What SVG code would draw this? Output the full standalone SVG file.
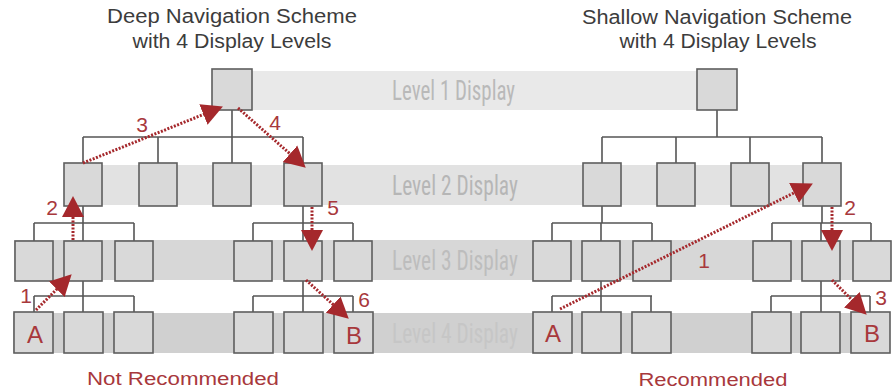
<svg xmlns="http://www.w3.org/2000/svg" width="895" height="392" viewBox="0 0 895 392">
  <style>
    .title { font-family: "Liberation Sans", Arial, sans-serif; font-size: 20px; fill: #3c3c3c; text-anchor: middle; }
    .verdict { font-family: "Liberation Sans", Arial, sans-serif; font-size: 18px; fill: #a8383c; text-anchor: middle; }
    .level { font-family: "Roboto Condensed", "DejaVu Sans Condensed", Roboto, sans-serif; font-size: 27px; }
    .box { fill: #d9d9d9; stroke: #5e5e5e; stroke-width: 1.6; }
    .tree { fill: none; stroke: #555; stroke-width: 1.6; }
    .step { fill: none; stroke: #a5282c; stroke-width: 3; stroke-dasharray: 2 1.5; }
    .num { font-family: "Liberation Sans", Arial, sans-serif; font-size: 21px; fill: #a8383c; text-anchor: middle; }
    .end { font-family: "Liberation Sans", Arial, sans-serif; font-size: 24px; fill: #a8383c; text-anchor: middle; }
  </style>
  <defs>
    <marker id="head" viewBox="0 -12 22 24" refX="10" refY="0" markerWidth="22" markerHeight="24" markerUnits="userSpaceOnUse" orient="auto">
      <path d="M0,-11 L21,0 L0,11 z" fill="#a5282c"/>
    </marker>
  </defs>

  <!-- display level bands -->
  <g id="bands">
    <rect x="212" y="71" width="525" height="39" fill="#e9e9e9"/>
    <rect x="64" y="165" width="777" height="40" fill="#e2e2e2"/>
    <rect x="14" y="240" width="877" height="40" fill="#d7d7d7"/>
    <rect x="13" y="313" width="877" height="40" fill="#d0d0d0"/>
    <!-- labels are squeezed horizontally to a condensed look -->
    <text class="level" transform="translate(392,100) scale(0.68,1)" textLength="181" lengthAdjust="spacingAndGlyphs" fill="#b9b9b9">Level 1 Display</text>
    <text class="level" transform="translate(392,195) scale(0.68,1)" textLength="185" lengthAdjust="spacingAndGlyphs" fill="#b6b6b6">Level 2 Display</text>
    <text class="level" transform="translate(392,270) scale(0.68,1)" textLength="185" lengthAdjust="spacingAndGlyphs" fill="#bdbdbd">Level 3 Display</text>
    <text class="level" transform="translate(392,343) scale(0.68,1)" textLength="185" lengthAdjust="spacingAndGlyphs" fill="#c6c6c6">Level 4 Display</text>
  </g>

  <!-- titles -->
  <g id="titles">
    <text class="title" x="232" y="23" textLength="250" lengthAdjust="spacingAndGlyphs">Deep Navigation Scheme</text>
    <text class="title" x="232" y="48" textLength="199" lengthAdjust="spacingAndGlyphs">with 4 Display Levels</text>
    <text class="title" x="717" y="24" textLength="270" lengthAdjust="spacingAndGlyphs">Shallow Navigation Scheme</text>
    <text class="title" x="718" y="48" textLength="197" lengthAdjust="spacingAndGlyphs">with 4 Display Levels</text>
    <text class="verdict" x="183" y="385" textLength="192" lengthAdjust="spacingAndGlyphs">Not Recommended</text>
    <text class="verdict" x="713" y="386" textLength="149" lengthAdjust="spacingAndGlyphs">Recommended</text>
  </g>

  <!-- tree connectors -->
  <g id="connectors" class="tree">
    <!-- deep scheme -->
    <path d="M232,110 V137 M83,137 H303 M83,137 V163 M158,137 V163 M232,137 V163 M303,137 V163"/>
    <path d="M83,206 V223 M34,223 H134 M34,223 V241 M83,223 V241 M134,223 V241"/>
    <path d="M303,206 V223 M253,223 H353 M253,223 V241 M303,223 V241 M353,223 V241"/>
    <path d="M83,281 V296 M34,296 H134 M34,296 V312 M83,296 V312 M134,296 V312"/>
    <path d="M303,281 V296 M253,296 H353 M253,296 V312 M303,296 V312 M353,296 V312"/>
    <!-- shallow scheme -->
    <path d="M717,110 V137 M602,137 H822 M602,137 V163 M676,137 V163 M750,137 V163 M822,137 V163"/>
    <path d="M602,206 V223 M552,223 H652 M552,223 V241 M601,223 V241 M652,223 V241"/>
    <path d="M822,206 V223 M772,223 H871 M772,223 V241 M821,223 V241 M871,223 V241"/>
    <path d="M601,281 V296 M552,296 H652 M552,296 V312 M601,296 V312 M651,296 V312"/>
    <path d="M821,281 V296 M771,296 H870 M771,296 V312 M821,296 V312 M870,296 V312"/>
  </g>

  <!-- deep scheme displays -->
  <g id="deep-l1"><rect class="box" x="212" y="69" width="40" height="41"/></g>
  <g id="deep-l2-1"><rect class="box" x="64" y="163" width="38" height="43"/></g>
  <g id="deep-l2-2"><rect class="box" x="139" y="163" width="38" height="43"/></g>
  <g id="deep-l2-3"><rect class="box" x="213" y="163" width="38" height="43"/></g>
  <g id="deep-l2-4"><rect class="box" x="284" y="163" width="38" height="43"/></g>
  <g id="deep-l3-1"><rect class="box" x="15" y="241" width="38" height="40"/></g>
  <g id="deep-l3-2"><rect class="box" x="64" y="241" width="38" height="40"/></g>
  <g id="deep-l3-3"><rect class="box" x="115" y="241" width="38" height="40"/></g>
  <g id="deep-l3-4"><rect class="box" x="234" y="241" width="38" height="40"/></g>
  <g id="deep-l3-5"><rect class="box" x="284" y="241" width="38" height="40"/></g>
  <g id="deep-l3-6"><rect class="box" x="334" y="241" width="38" height="40"/></g>
  <g id="deep-l4-a"><rect class="box" x="14" y="312" width="39" height="41"/><text class="end" x="35" y="343">A</text></g>
  <g id="deep-l4-2"><rect class="box" x="64" y="312" width="39" height="41"/></g>
  <g id="deep-l4-3"><rect class="box" x="114" y="312" width="39" height="41"/></g>
  <g id="deep-l4-4"><rect class="box" x="234" y="312" width="39" height="41"/></g>
  <g id="deep-l4-5"><rect class="box" x="284" y="312" width="39" height="41"/></g>
  <g id="deep-l4-b"><rect class="box" x="334" y="312" width="39" height="41"/><text class="end" x="354" y="344">B</text></g>

  <!-- shallow scheme displays -->
  <g id="shallow-l1"><rect class="box" x="697" y="69" width="40" height="41"/></g>
  <g id="shallow-l2-1"><rect class="box" x="583" y="163" width="38" height="43"/></g>
  <g id="shallow-l2-2"><rect class="box" x="657" y="163" width="38" height="43"/></g>
  <g id="shallow-l2-3"><rect class="box" x="731" y="163" width="38" height="43"/></g>
  <g id="shallow-l2-4"><rect class="box" x="803" y="163" width="38" height="43"/></g>
  <g id="shallow-l3-1"><rect class="box" x="533" y="241" width="38" height="40"/></g>
  <g id="shallow-l3-2"><rect class="box" x="582" y="241" width="38" height="40"/></g>
  <g id="shallow-l3-3"><rect class="box" x="633" y="241" width="38" height="40"/></g>
  <g id="shallow-l3-4"><rect class="box" x="753" y="241" width="38" height="40"/></g>
  <g id="shallow-l3-5"><rect class="box" x="802" y="241" width="38" height="40"/></g>
  <g id="shallow-l3-6"><rect class="box" x="853" y="241" width="38" height="40"/></g>
  <g id="shallow-l4-a"><rect class="box" x="533" y="312" width="39" height="41"/><text class="end" x="553" y="342">A</text></g>
  <g id="shallow-l4-2"><rect class="box" x="582" y="312" width="39" height="41"/></g>
  <g id="shallow-l4-3"><rect class="box" x="632" y="312" width="39" height="41"/></g>
  <g id="shallow-l4-4"><rect class="box" x="752" y="312" width="39" height="41"/></g>
  <g id="shallow-l4-5"><rect class="box" x="801" y="312" width="39" height="41"/></g>
  <g id="shallow-l4-b"><rect class="box" x="851" y="312" width="39" height="41"/><text class="end" x="872" y="342">B</text></g>

  <!-- navigation steps -->
  <g id="steps">
    <line class="step" x1="36" y1="310" x2="63.9" y2="282.1" marker-end="url(#head)"/>
    <line class="step" x1="73" y1="240" x2="73" y2="207" marker-end="url(#head)"/>
    <line class="step" x1="83" y1="163" x2="212.7" y2="110.7" marker-end="url(#head)"/>
    <line class="step" x1="238" y1="108" x2="297.5" y2="160.4" marker-end="url(#head)"/>
    <line class="step" x1="312" y1="207" x2="312" y2="240" marker-end="url(#head)"/>
    <line class="step" x1="306" y1="280" x2="340.6" y2="311.3" marker-end="url(#head)"/>
    <line class="step" x1="560" y1="309" x2="803" y2="188.4" marker-end="url(#head)"/>
    <line class="step" x1="832" y1="207" x2="832" y2="240" marker-end="url(#head)"/>
    <line class="step" x1="832" y1="280" x2="858.9" y2="306.9" marker-end="url(#head)"/>
    <text class="num" x="26" y="303">1</text>
    <text class="num" x="52" y="215">2</text>
    <text class="num" x="142" y="132">3</text>
    <text class="num" x="275" y="130">4</text>
    <text class="num" x="333" y="215">5</text>
    <text class="num" x="364" y="307">6</text>
    <text class="num" x="704" y="268">1</text>
    <text class="num" x="850" y="215">2</text>
    <text class="num" x="881" y="305">3</text>
  </g>
</svg>
